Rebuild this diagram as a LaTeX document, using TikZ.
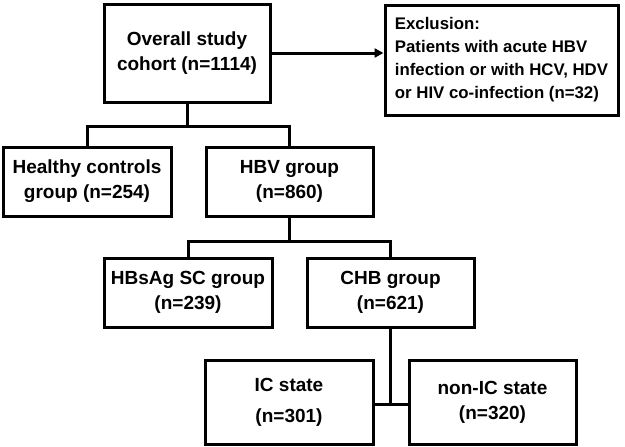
\documentclass[tikz,border=0pt]{standalone}
\usepackage{fontspec}
\setmainfont{Liberation Sans}
\usetikzlibrary{arrows.meta,calc}
\tikzset{
  box/.style={draw=black, line width=3pt, rectangle, align=center, inner sep=2pt,
    font=\bfseries\fontsize{19}{25}\selectfont},
  link/.style={draw=black, line width=3pt},
}
\begin{document}
\begin{tikzpicture}[x=1pt,y=-1pt]
\useasboundingbox (0,0) rectangle (625,447);
\node[box, minimum width=166pt, minimum height=98pt] (ov) at (187,53) {Overall study\\cohort (n=1114)};
\node[box, minimum width=233pt, minimum height=110pt, align=left,
  font=\bfseries\fontsize{16.8}{23}\selectfont] (ex) at (501.5,60)
  {Exclusion:\\Patients with acute HBV\\infection or with HCV, HDV\\or HIV co-infection (n=32)};
\node[box, minimum width=168pt, minimum height=69pt] (hc) at (87,181.5) {Healthy controls\\group (n=254)};
\node[box, minimum width=167pt, minimum height=69pt] (hbv) at (289.5,181.5) {HBV group\\(n=860)};
\node[box, minimum width=168pt, minimum height=69pt] (sc) at (188,292.5) {HBsAg SC group\\(n=239)};
\node[box, minimum width=167pt, minimum height=69pt] (chb) at (390.5,292.5) {CHB group\\(n=621)};
\node[box, minimum width=168pt, minimum height=84pt, font=\bfseries\fontsize{19}{31}\selectfont] (ic) at (289,402) {IC state\\(n=301)};
\node[box, minimum width=167pt, minimum height=84pt] (nic) at (492.5,402) {non-IC state\\(n=320)};

\draw[link, -{Triangle[length=9pt,width=9pt]}] (ov.east) -- (ov.east -| ex.west);

\coordinate (b1) at ($(ov.south)+(0,23)$);
\draw[link] (ov.south) -- (b1);
\draw[link] (hc.north) |- (b1) -| (hbv.north);

\coordinate (b2) at ($(hbv.south)+(0,24)$);
\draw[link] (hbv.south) -- (b2);
\draw[link] (sc.north) |- (b2) -| (chb.north);

\coordinate (b3) at ($(chb.south)+(0,76)$);
\draw[link] (chb.south) -- (b3);
\draw[link] (ic.east |- b3) -- (nic.west |- b3);
\end{tikzpicture}
\end{document}
